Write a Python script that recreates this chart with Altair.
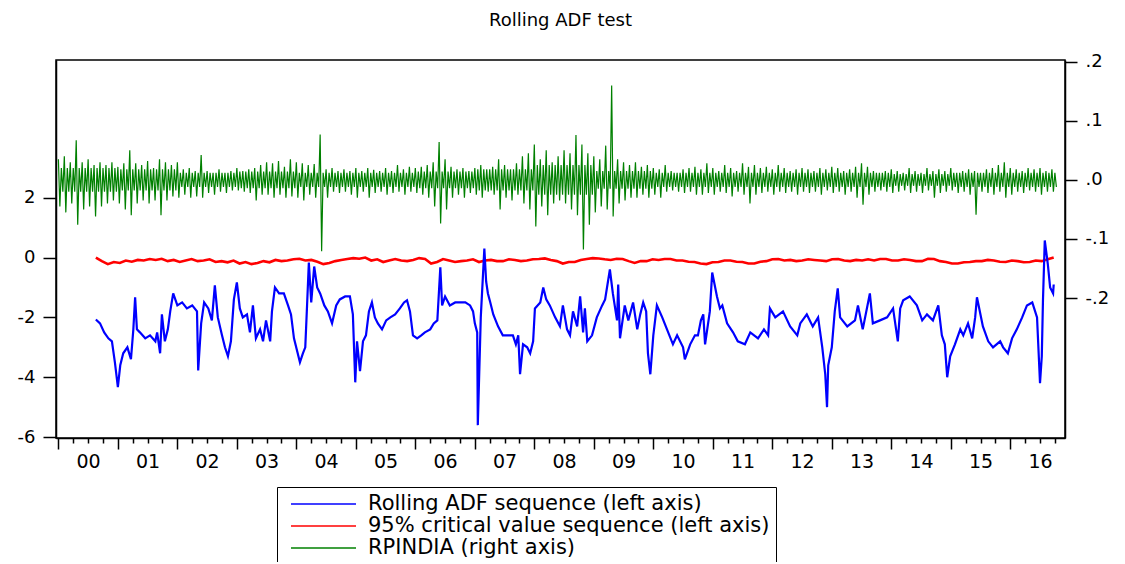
import altair as alt
import pandas as pd

TITLE = "Rolling ADF test"
SERIES = [
    "Rolling ADF sequence (left axis)",
    "95% critical value sequence (left axis)",
    "RPINDIA (right axis)",
]
COLORS = ["#0000ff", "#ff0000", "#008000"]
FONT = "DejaVu Sans"

# Rolling ADF statistic (left axis), decimal year / value
adf_year = [
    2000.63, 2000.70, 2000.77, 2000.84, 2000.90, 2000.95, 2001.00, 2001.04, 2001.09, 2001.16,
    2001.22, 2001.26, 2001.29, 2001.32, 2001.37, 2001.46, 2001.54, 2001.63, 2001.66, 2001.71,
    2001.74, 2001.79, 2001.84, 2001.88, 2001.93,
    2002.00, 2002.08, 2002.16, 2002.25, 2002.33, 2002.35, 2002.40, 2002.45, 2002.52, 2002.58,
    2002.63, 2002.68, 2002.75, 2002.80, 2002.85, 2002.90, 2002.95, 2003.00, 2003.05, 2003.10,
    2003.17, 2003.22, 2003.27, 2003.32, 2003.39, 2003.44, 2003.49, 2003.56, 2003.59, 2003.64,
    2003.71, 2003.79, 2003.86, 2003.91, 2003.96,
    2004.01, 2004.06, 2004.11, 2004.15, 2004.18, 2004.21, 2004.25, 2004.30, 2004.35, 2004.40,
    2004.47, 2004.53, 2004.60, 2004.67, 2004.73, 2004.82, 2004.90, 2004.95, 2004.99, 2005.02,
    2005.07, 2005.12, 2005.17, 2005.22, 2005.27, 2005.32, 2005.37, 2005.44, 2005.51, 2005.58,
    2005.66, 2005.74, 2005.81, 2005.86, 2005.91, 2005.96,
    2006.03, 2006.10, 2006.16, 2006.25, 2006.31, 2006.37, 2006.42, 2006.45, 2006.50, 2006.58,
    2006.67, 2006.75, 2006.84, 2006.92, 2006.97, 2007.00, 2007.04, 2007.05, 2007.10, 2007.16,
    2007.19, 2007.22, 2007.26, 2007.31, 2007.39, 2007.47, 2007.56, 2007.64, 2007.69, 2007.73,
    2007.76, 2007.81, 2007.88, 2007.93, 2007.98,
    2008.01, 2008.10, 2008.15, 2008.20, 2008.26, 2008.35, 2008.43, 2008.48, 2008.55, 2008.60,
    2008.65, 2008.72, 2008.77, 2008.82, 2008.85, 2008.89, 2008.97, 2009.05, 2009.14, 2009.19,
    2009.27, 2009.32, 2009.39, 2009.41, 2009.44, 2009.52, 2009.58, 2009.66, 2009.73, 2009.78,
    2009.83, 2009.88, 2009.91, 2009.95,
    2010.00, 2010.06, 2010.15, 2010.23, 2010.33, 2010.40, 2010.50, 2010.53, 2010.62, 2010.70,
    2010.75, 2010.80, 2010.84, 2010.87, 2010.95, 2010.99, 2011.07, 2011.12, 2011.16, 2011.24,
    2011.34, 2011.42, 2011.54, 2011.63, 2011.76, 2011.86, 2011.93, 2011.96,
    2012.05, 2012.18, 2012.30, 2012.42, 2012.47, 2012.58, 2012.68, 2012.77, 2012.84, 2012.89,
    2012.92, 2012.94, 2013.00, 2013.05, 2013.10, 2013.14, 2013.26, 2013.39, 2013.44, 2013.52,
    2013.64, 2013.69, 2013.81, 2013.93,
    2014.03, 2014.11, 2014.15, 2014.20, 2014.31, 2014.43, 2014.52, 2014.60, 2014.70, 2014.79,
    2014.85, 2014.90, 2014.94, 2014.99, 2015.07, 2015.16, 2015.21, 2015.29, 2015.36, 2015.41,
    2015.44, 2015.54, 2015.63, 2015.71, 2015.83, 2015.88, 2015.96, 2016.03, 2016.11, 2016.20,
    2016.28, 2016.37, 2016.45, 2016.50, 2016.53, 2016.55, 2016.58, 2016.63, 2016.67, 2016.72,
    2016.73,
]
adf_value = [
    -2.07, -2.2, -2.5, -2.7, -2.8, -3.5, -4.33, -3.6, -3.2, -3.0,
    -3.4, -2.4, -1.33, -2.4, -2.5, -2.7, -2.6, -2.8, -2.5, -3.2,
    -1.9, -2.8, -2.4, -1.8, -1.2,
    -1.6, -1.5, -1.7, -1.6, -1.8, -3.77, -2.2, -1.5, -1.7, -2.1,
    -0.93, -2.0, -2.6, -3.0, -3.3, -2.8, -1.4, -0.83, -1.7, -2.0,
    -1.9, -2.5, -1.6, -2.7, -2.4, -2.8, -2.1, -2.8, -1.8, -1.0,
    -1.2, -1.2, -1.6, -1.9, -2.7,
    -3.1, -3.5, -3.2, -3.0, -1.6, -0.17, -1.5, -0.3, -1.0, -1.2,
    -1.6, -1.8, -2.2, -1.6, -1.4, -1.3, -1.3, -1.9, -4.17, -2.8,
    -3.8, -2.8, -2.6, -1.8, -1.5, -2.0, -2.2, -2.4, -2.1, -2.0,
    -1.9, -1.7, -1.5, -1.43, -1.8, -2.6,
    -2.7, -2.6, -2.5, -2.4, -2.2, -2.1, -0.33, -1.6, -1.3, -1.6,
    -1.5, -1.5, -1.5, -1.6, -1.8, -2.2, -2.5, -5.6, -2.0, 0.3,
    -0.8, -1.2, -1.5, -1.9, -2.3, -2.6, -2.6, -2.6, -2.9, -2.6,
    -3.9, -2.9, -3.0, -3.2, -2.8,
    -1.7, -1.5, -1.0, -1.4, -1.6, -2.0, -2.3, -1.6, -2.4, -2.6,
    -1.8, -2.3, -1.3, -2.5, -1.7, -2.8, -2.6, -2.0, -1.6, -1.4,
    -0.4, -1.2, -2.1, -0.9, -2.7, -1.6, -2.1, -1.5, -2.4, -1.9,
    -1.5, -1.8, -3.2, -3.9,
    -2.6, -1.6, -2.0, -2.4, -2.9, -2.6, -3.0, -3.4, -2.9, -2.6,
    -2.6, -2.1, -1.9, -2.9, -1.8, -0.5, -1.3, -1.7, -1.6, -2.2,
    -2.5, -2.8, -2.9, -2.5, -2.7, -2.4, -2.6, -1.7,
    -2.0, -1.8, -2.3, -2.6, -2.2, -1.9, -2.3, -2.0, -3.0, -3.9,
    -5.0, -3.6, -3.0, -1.8, -1.03, -2.0, -2.3, -2.1, -1.6, -2.4,
    -1.2, -2.2, -2.1, -2.0,
    -1.7, -2.8, -1.7, -1.43, -1.3, -1.6, -2.1, -1.9, -2.1, -1.6,
    -2.6, -2.9, -4.0, -3.3, -2.9, -2.4, -2.6, -2.2, -2.7, -2.0,
    -1.33, -2.3, -2.8, -3.0, -2.8, -3.0, -3.2, -2.7, -2.4, -2.0,
    -1.6, -1.5, -2.0, -4.2, -3.3, -1.4, 0.57, -0.2, -1.0, -1.2,
    -0.9,
]

# 95% critical value sequence (left axis), evenly spaced observations
cv_first_year = 2000.63
cv_last_year = 2016.73
cv_value = [
    0.0, -0.12, -0.22, -0.15, -0.18, -0.1, -0.14, -0.08, -0.1, -0.05,
    -0.08, -0.04, -0.12, -0.08, -0.15, -0.1, -0.05, -0.12, -0.1, -0.06,
    -0.15, -0.12, -0.16, -0.1, -0.2, -0.15, -0.22, -0.18, -0.12, -0.16,
    -0.08, -0.12, -0.1, -0.06, -0.04, -0.1, -0.08, -0.14, -0.22, -0.18,
    -0.12, -0.08, -0.05, -0.02, -0.04, 0.0, -0.1, -0.06, -0.15, -0.1,
    -0.05, -0.1, -0.12, -0.08, -0.02, -0.05, -0.2, -0.15, -0.05, -0.1,
    -0.15, -0.12, -0.1, -0.06, -0.15, -0.1, -0.08, -0.12, -0.12, -0.06,
    -0.08, -0.12, -0.1, -0.06, -0.05, -0.03, -0.08, -0.12, -0.2, -0.15,
    -0.15, -0.08, -0.05, -0.02, -0.03, -0.06, -0.08, -0.04, -0.05, -0.12,
    -0.18, -0.12, -0.12, -0.06, -0.08, -0.05, -0.05, -0.1, -0.1, -0.14,
    -0.15, -0.2, -0.22, -0.16, -0.15, -0.1, -0.1, -0.14, -0.15, -0.2,
    -0.2, -0.14, -0.12, -0.06, -0.05, -0.1, -0.08, -0.12, -0.1, -0.06,
    -0.08, -0.1, -0.12, -0.06, -0.05, -0.1, -0.12, -0.08, -0.1, -0.06,
    -0.1, -0.05, -0.05, -0.1, -0.1, -0.06, -0.08, -0.12, -0.12, -0.04,
    -0.05, -0.12, -0.15, -0.2, -0.2, -0.16, -0.15, -0.12, -0.12, -0.08,
    -0.1, -0.14, -0.15, -0.1, -0.12, -0.16, -0.15, -0.1, -0.12, -0.06,
    0.0,
]

# RPINDIA (right axis): outer high / low swings, one pair per 0.1 year from 2000.0
rp_first_year = 2000.0
rp_step = 0.1
rp_high = [
    .035, .04, .03, .067, .03, .035, .025, .03, .025, .03,
    .022, .028, .05, .028, .025, .032, .02, .035, .03, .025,
    .03, .018, .02, .015, .042, .015, .012, .018, .012, .015,
    .02, .015, .018, .02, .025, .03, .028, .032, .022, .035,
    .03, .028, .025, .027, .077, .018, .02, .015, .018, .015,
    .02, .015, .02, .017, .015, .02, .015, .025, .018, .022,
    .02, .022, .025, .03, .064, .035, .022, .018, .02, .015,
    .02, .025, .018, .022, .035, .025, .018, .028, .04, .045,
    .06, .035, .05, .03, .04, .05, .045, .076, .06, .045,
    .04, .035, .058, .16, .035, .03, .025, .03, .022, .025,
    .02, .018, .025, .015, .012, .018, .02, .022, .018, .028,
    .02, .015, .025, .02, .015, .028, .022, .025, .02, .022,
    .018, .025, .02, .015, .018, .02, .018, .015, .02, .018,
    .022, .02, .015, .018, .022, .028, .022, .015, .012, .015,
    .018, .015, .012, .02, .015, .012, .02, .015, .018, .015,
    .02, .012, .015, .018, .015, .012, .018, .02, .025, .03,
    .02, .018, .015, .02, .018, .02, .015, .018,
]
rp_low = [
    -.045, -.055, -.04, -.076, -.05, -.045, -.062, -.045, -.04, -.035,
    -.04, -.05, -.06, -.04, -.035, -.04, -.035, -.06, -.035, -.028,
    -.03, -.025, -.03, -.028, -.03, -.022, -.025, -.02, -.022, -.018,
    -.018, -.02, -.022, -.035, -.025, -.025, -.03, -.025, -.03, -.028,
    -.03, -.035, -.025, -.03, -.121, -.03, -.02, -.022, -.02, -.025,
    -.03, -.02, -.03, -.022, -.02, -.025, -.022, -.02, -.025, -.02,
    -.022, -.025, -.03, -.045, -.074, -.05, -.03, -.025, -.03, -.022,
    -.025, -.03, -.02, -.025, -.05, -.03, -.035, -.025, -.04, -.05,
    -.079, -.045, -.06, -.04, -.035, -.04, -.05, -.06, -.118, -.076,
    -.055, -.045, -.05, -.062, -.04, -.035, -.03, -.03, -.025, -.03,
    -.025, -.03, -.02, -.018, -.02, -.022, -.02, -.025, -.025, -.022,
    -.025, -.02, -.022, -.028, -.02, -.025, -.04, -.025, -.022, -.02,
    -.025, -.02, -.022, -.02, -.025, -.02, -.022, -.02, -.025, -.018,
    -.022, -.02, -.025, -.02, -.03, -.042, -.025, -.02, -.018, -.02,
    -.022, -.02, -.018, -.022, -.02, -.022, -.018, -.03, -.022, -.02,
    -.018, -.022, -.02, -.025, -.059, -.02, -.022, -.025, -.02, -.03,
    -.025, -.02, -.022, -.018, -.02, -.025, -.02, -.02,
]
# half-thickness of the dense core of RPINDIA swings, per calendar year 2000..2016
rp_core = [.02, .018, .012, .014, .012, .012, .014, .018, .025, .015,
           .012, .012, .012, .012, .01, .012, .012]

# Axis ticks
left_ticks = [2, 0, -2, -4, -6]
right_ticks = [0.2, 0.1, 0.0, -0.1, -0.2]
tick_years = list(range(2000, 2017))
quarter_ticks = [y + q / 4 for y in tick_years for q in range(4)]

assert len(adf_year) == len(adf_value)
assert len(rp_high) == len(rp_low)

adf_df = pd.DataFrame({"year": adf_year, "value": adf_value, "series": SERIES[0]})
n_cv = len(cv_value)
cv_df = pd.DataFrame({
    "year": [cv_first_year + (cv_last_year - cv_first_year) * i / (n_cv - 1) for i in range(n_cv)],
    "value": cv_value,
    "series": SERIES[1],
})
rp_rows = []
for i, (hi, lo) in enumerate(zip(rp_high, rp_low)):
    t = rp_first_year + rp_step * i
    core = rp_core[min(int(t + 1e-9) - 2000, len(rp_core) - 1)]
    for k, v in enumerate([hi, lo, core, -core]):
        rp_rows.append({"year": t + rp_step * k / 4, "value": v, "series": SERIES[2]})
rp_df = pd.DataFrame(rp_rows)
title_df = pd.DataFrame({"label": [TITLE]})

x_enc = alt.X(
    "year:Q",
    title=None,
    scale=alt.Scale(domain=[1999.96, 2016.92], nice=False, zero=False),
    axis=alt.Axis(
        values=quarter_ticks,
        tickSize={"condition": {"test": "datum.value % 1 === 0", "value": 11}, "value": 5},
        labelExpr="datum.value % 1 === 0.5 ? format(floor(datum.value) % 100, '02d') : ''",
        labelOverlap=False,
        labelFlush=False,
        labelPadding=9,
        labelFontSize=19,
        grid=False,
    ),
)

color_enc = alt.Color(
    "series:N",
    scale=alt.Scale(domain=SERIES, range=COLORS),
    legend=alt.Legend(
        orient="none",
        legendX=221,
        legendY=427,
        title=None,
        direction="vertical",
        strokeColor="black",
        fillColor="white",
        padding=6,
        symbolType="M-0.3,0H6.2",
        symbolSize=400,
        symbolStrokeWidth=1.5,
        labelFont=FONT,
        labelFontSize=21,
        labelColor="black",
        labelOffset=63,
        labelLimit=2000,
        rowPadding=1,
    ),
)

y_left = alt.Y(
    "value:Q",
    title=None,
    scale=alt.Scale(domain=[-6.03, 6.6], nice=False, zero=False),
    axis=alt.Axis(
        orient="left",
        values=left_ticks,
        labelExpr="'' + datum.value",
        tickSize=13,
        labelPadding=8,
        grid=False,
    ),
)
y_right = alt.Y(
    "value:Q",
    title=None,
    scale=alt.Scale(domain=[-0.437, 0.203], nice=False, zero=False),
    axis=alt.Axis(
        orient="right",
        values=right_ticks,
        labelExpr="datum.value == 0 ? '.0' : replace('' + datum.value, '0.', '.')",
        tickSize=12,
        labelPadding=8,
        labelAlign="left",
        grid=False,
    ),
)

red = alt.Chart(cv_df).mark_line(strokeWidth=2.6, clip=True).encode(x=x_enc, y=y_left, color=color_enc)
blue = alt.Chart(adf_df).mark_line(strokeWidth=2.2, clip=True).encode(x=x_enc, y=y_left, color=color_enc)
green = alt.Chart(rp_df).mark_line(strokeWidth=1.2, clip=True).encode(x=x_enc, y=y_right, color=color_enc)
title_mark = alt.Chart(title_df).mark_text(
    font=FONT, fontSize=18, color="black", align="center", baseline="middle"
).encode(text="label:N", x=alt.value(504.5), y=alt.value(-39))

chart = (
    alt.layer(alt.layer(red, blue), green, title_mark)
    .resolve_scale(y="independent")
    .properties(
        width=1009,
        height=378,
        autosize=alt.AutoSizeParams(type="none"),
        padding={"left": 48, "top": 52, "right": 52, "bottom": 124},
    )
    .configure_view(stroke="black", strokeWidth=1.5)
    .configure_axis(
        domainColor="black",
        domainWidth=1.5,
        tickColor="black",
        tickWidth=1.5,
        labelFont=FONT,
        labelFontSize=18,
        labelColor="black",
    )
)

chart.save("out.html", embed_options={"renderer": "svg", "actions": False})
